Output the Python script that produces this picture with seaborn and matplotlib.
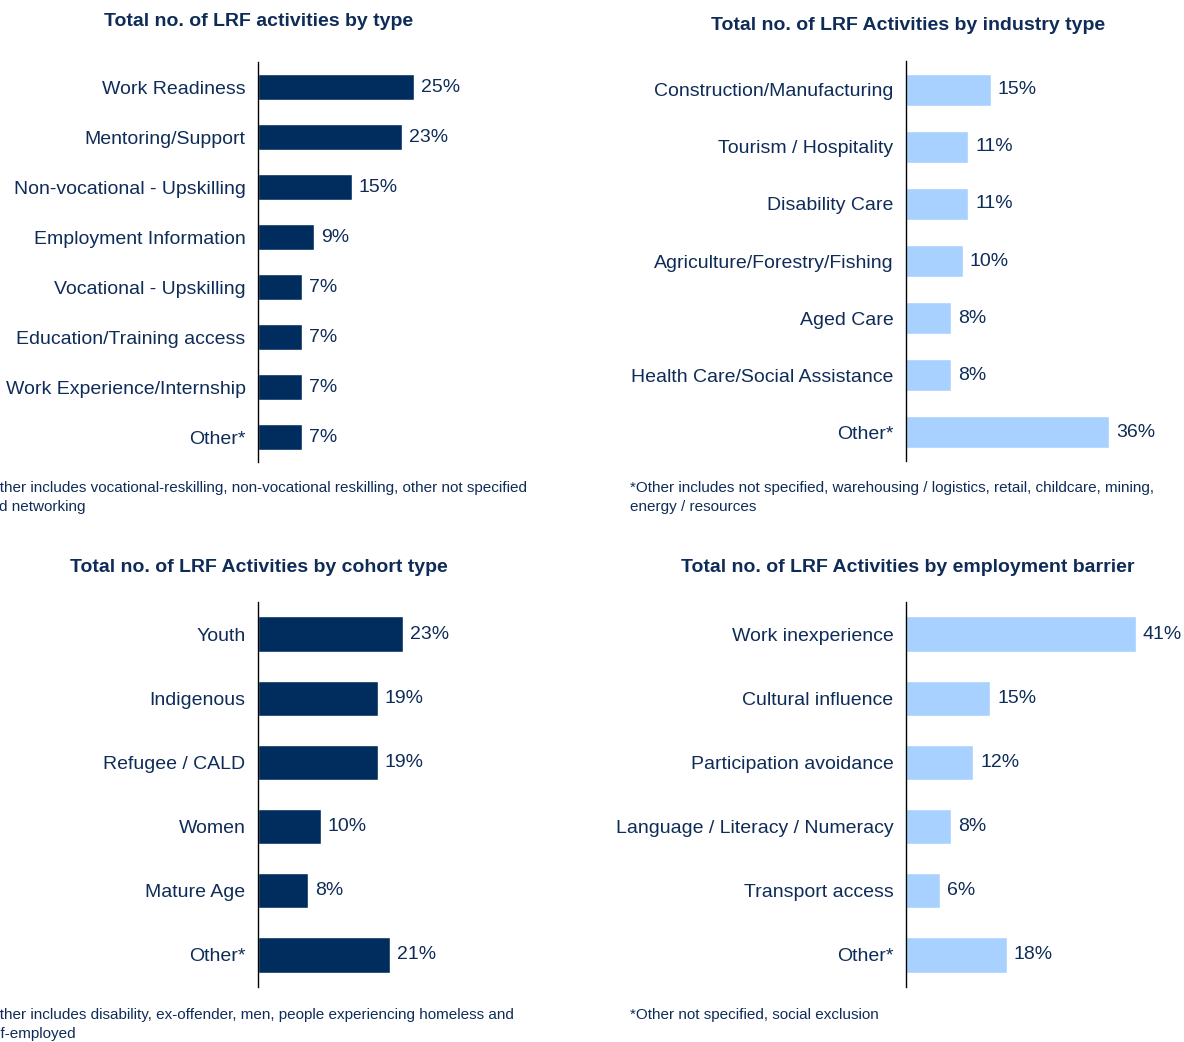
import pandas as pd
import matplotlib.pyplot as plt
import seaborn as sns

sns.set_theme(style="white")
plt.rcParams['font.family'] = ['Liberation Sans', 'DejaVu Sans']

NAVY = '#002D5E'
LIGHT = '#A9D1FF'
TEXT = '#0F2C58'

# data
type_cats = ['Work Readiness', 'Mentoring/Support', 'Non-vocational - Upskilling',
             'Employment Information', 'Vocational - Upskilling',
             'Education/Training access', 'Work Experience/Internship', 'Other*']
type_vals = [25, 23, 15, 9, 7, 7, 7, 7]

industry_cats = ['Construction/Manufacturing', 'Tourism / Hospitality', 'Disability Care',
                 'Agriculture/Forestry/Fishing', 'Aged Care',
                 'Health Care/Social Assistance', 'Other*']
industry_vals = [15, 11, 11, 10, 8, 8, 36]

cohort_cats = ['Youth', 'Indigenous', 'Refugee / CALD', 'Women', 'Mature Age', 'Other*']
cohort_vals = [23, 19, 19, 10, 8, 21]

barrier_cats = ['Work inexperience', 'Cultural influence', 'Participation avoidance',
                'Language / Literacy / Numeracy', 'Transport access', 'Other*']
barrier_vals = [41, 15, 12, 8, 6, 18]

W, H = 1184, 1042
fig = plt.figure(figsize=(W / 100, H / 100), dpi=100)


def px_axes(x0, y0, x1, y1):
    return fig.add_axes([x0 / W, 1 - y1 / H, (x1 - x0) / W, (y1 - y0) / H])


def panel(ax, cats, vals, color, bar_h, xmax):
    df = pd.DataFrame({'cat': cats, 'val': vals})
    sns.barplot(data=df, y='cat', x='val', orient='h', color=color,
                width=bar_h, saturation=1, ax=ax)
    ax.bar_label(ax.containers[0], fmt='%d%%', padding=5, color=TEXT, fontsize=14)
    ax.set_xlim(0, xmax)
    ax.set_ylim(len(cats) - 0.5, -0.5)
    ax.set_xlabel('')
    ax.set_ylabel('')
    ax.set_xticks([])
    ax.tick_params(axis='y', length=0, pad=9, labelsize=14, labelcolor=TEXT)
    for s in ['top', 'right', 'bottom']:
        ax.spines[s].set_visible(False)
    ax.spines['left'].set_color('black')
    ax.spines['left'].set_linewidth(1)
    ax.patch.set_alpha(0)


ax1 = px_axes(258, 62, 560, 462)
panel(ax1, type_cats, type_vals, NAVY, 0.52, 302 / 6.26)

ax2 = px_axes(906, 61, 1184, 461)
panel(ax2, industry_cats, industry_vals, LIGHT, 0.56, 278 / 5.65)

ax3 = px_axes(258, 602, 560, 987)
panel(ax3, cohort_cats, cohort_vals, NAVY, 0.55, 302 / 6.29)

ax4 = px_axes(906, 602, 1184, 987)
panel(ax4, barrier_cats, barrier_vals, LIGHT, 0.55, 278 / 5.61)


def ftext(x, y, s, **kw):
    fig.text(x / W, 1 - y / H, s, color=TEXT, **kw)


tkw = dict(fontsize=14, fontweight='bold', ha='center', va='center')
ftext(259, 22, 'Total no. of LRF activities by type', **tkw)
ftext(908, 26, 'Total no. of LRF Activities by industry type', **tkw)
ftext(259, 568, 'Total no. of LRF Activities by cohort type', **tkw)
ftext(908, 568, 'Total no. of LRF Activities by employment barrier', **tkw)

# the left-hand notes run past the left edge in the reference as well
nkw = dict(fontsize=11, ha='left', va='top', linespacing=1.45)
ftext(-18, 481, '*Other includes vocational-reskilling, non-vocational reskilling, other not specified\nand networking', **nkw)
ftext(630, 481, '*Other includes not specified, warehousing / logistics, retail, childcare, mining,\nenergy / resources', **nkw)
ftext(-18, 1008, '*Other includes disability, ex-offender, men, people experiencing homeless and\nself-employed', **nkw)
ftext(630, 1008, '*Other not specified, social exclusion', **nkw)

fig.savefig('out.png', dpi=100)
